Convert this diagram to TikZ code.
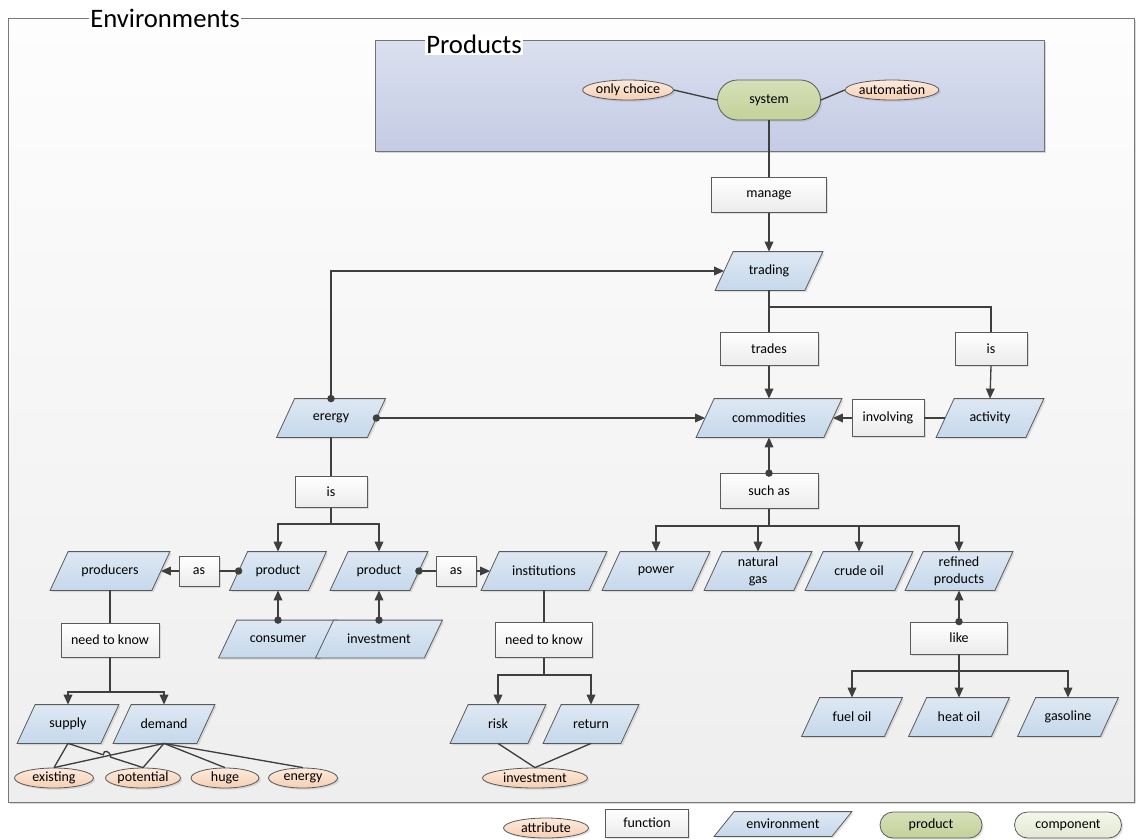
\documentclass[tikz,border=0pt]{standalone}
\usepackage{fontspec}
\setmainfont{Carlito}
\usetikzlibrary{shapes.geometric, shadows, arrows.meta, calc}

% parallelogram leaning right; anchors are those of the inner rectangle,
% so west/east sit at the middle of the slanted sides
\makeatletter
\pgfkeys{/pgf/slant offset/.initial=6.75pt}
\pgfdeclareshape{slantbox}{
  \inheritsavedanchors[from=rectangle]
  \inheritanchorborder[from=rectangle]
  \inheritanchor[from=rectangle]{center}
  \inheritanchor[from=rectangle]{north}
  \inheritanchor[from=rectangle]{south}
  \inheritanchor[from=rectangle]{east}
  \inheritanchor[from=rectangle]{west}
  \inheritanchor[from=rectangle]{north east}
  \inheritanchor[from=rectangle]{north west}
  \inheritanchor[from=rectangle]{south east}
  \inheritanchor[from=rectangle]{south west}
  \inheritanchor[from=rectangle]{mid}
  \inheritanchor[from=rectangle]{base}
  \backgroundpath{
    \pgfmathsetlength\pgf@xc{\pgfkeysvalueof{/pgf/slant offset}}
    \southwest \pgf@xa=\pgf@x \pgf@ya=\pgf@y
    \northeast \pgf@xb=\pgf@x \pgf@yb=\pgf@y
    \pgfpathmoveto{\pgfqpoint{\dimexpr\pgf@xa-\pgf@xc\relax}{\pgf@ya}}
    \pgfpathlineto{\pgfqpoint{\dimexpr\pgf@xb-\pgf@xc\relax}{\pgf@ya}}
    \pgfpathlineto{\pgfqpoint{\dimexpr\pgf@xb+\pgf@xc\relax}{\pgf@yb}}
    \pgfpathlineto{\pgfqpoint{\dimexpr\pgf@xa+\pgf@xc\relax}{\pgf@yb}}
    \pgfpathclose
  }
}
\makeatother

\definecolor{linec}{HTML}{3F3F3F}
\definecolor{bordc}{HTML}{5A5A5A}
\definecolor{envtop}{HTML}{DEE8F3}
\definecolor{envbot}{HTML}{C5D8EB}
\definecolor{attrtop}{HTML}{FDEADC}
\definecolor{attrbot}{HTML}{F5CFB3}
\definecolor{funcbot}{HTML}{EBEBEB}
\definecolor{prodtop}{HTML}{D6E0B8}
\definecolor{prodbot}{HTML}{C3D19A}
\definecolor{comptop}{HTML}{F4F7EC}
\definecolor{compbot}{HTML}{E2E8D0}
\definecolor{frametop}{HTML}{FDFDFD}
\definecolor{framebot}{HTML}{EEEEEE}
\definecolor{pboxtop}{HTML}{DBE0EF}
\definecolor{pboxbot}{HTML}{C4CBE4}

\tikzset{
  base/.style={draw=bordc, line width=0.6pt, align=center, inner sep=1pt,
    font=\fontsize{10.5}{12.75}\selectfont,
    drop shadow={shadow xshift=1.3pt, shadow yshift=-1.3pt, opacity=0.22}},
  env/.style={base, shape=slantbox, top color=envtop, bottom color=envbot, minimum height=28.5pt},
  func/.style={base, rectangle, top color=white, bottom color=funcbot},
  attr/.style={base, ellipse, inner sep=0pt, top color=attrtop, bottom color=attrbot, minimum height=15pt},
  prod/.style={base, rectangle, top color=prodtop, bottom color=prodbot},
  comp/.style={base, rectangle, top color=comptop, bottom color=compbot},
  ln/.style={draw=linec, line width=1pt},
  arr/.style={ln, -{Triangle[length=7.5pt, width=6.5pt]}},
  jdot/.style={fill=linec},
  frametitle/.style={fill=white, inner sep=1pt, font=\fontsize{20}{22}\selectfont}
}

\begin{document}
\begin{tikzpicture}[x=0.75pt, y=-0.75pt]
\useasboundingbox (0,0) rectangle (1138,839);

% outer frame and product area
\draw[draw=gray!95!black, line width=0.7pt, top color=frametop, bottom color=framebot,
  drop shadow={shadow xshift=1.8pt, shadow yshift=-1.8pt, opacity=0.3}] (8,18) rectangle (1134,802);
\node[frametitle] (envtitle) at (165,18) {Environments};
\draw[draw=gray!90!black, line width=0.7pt, top color=pboxtop, bottom color=pboxbot,
  drop shadow={shadow xshift=1.8pt, shadow yshift=-1.8pt, opacity=0.3}] (375,40) rectangle (1044,151);
\node[frametitle] (prodtitle) at (474,44) {Products};

% product area
\node[prod, minimum width=77.25pt, minimum height=30pt, rounded corners=15pt] (system) at (769,100) {system};
\node[attr, minimum width=67.5pt] (onlychoice) at (628,90) {only choice};
\node[attr, minimum width=67.5pt] (automation) at (892,90) {automation};

% upper part
\node[func, minimum width=86.25pt, minimum height=26.25pt] (manage) at (769,195) {manage};
\node[env, minimum width=66.75pt] (trading) at (769,271) {trading};
\node[func, minimum width=73.5pt, minimum height=24.75pt] (trades) at (769,349) {trades};
\node[func, minimum width=54pt, minimum height=24.75pt] (isr) at (991,349) {is};
\node[env, minimum width=95.25pt] (commodities) at (769,418) {commodities};
\node[func, minimum width=54pt, minimum height=27.75pt] (involving) at (888,418) {involving};
\node[env, minimum width=66.75pt] (activity) at (990,418) {activity};
\node[env, minimum width=67.5pt] (erergy) at (331,418) {erergy};
\node[func, minimum width=73.5pt, minimum height=26.25pt] (suchas) at (769,491) {such as};
\node[func, minimum width=54pt, minimum height=23.25pt] (isl) at (331,492) {is};

% middle row
\node[env, minimum width=75.75pt] (producers) at (110,571) {producers};
\node[func, minimum width=30pt, minimum height=22.5pt] (asl) at (199,571) {as};
\node[env, minimum width=58.5pt] (prodA) at (278,571) {product};
\node[env, minimum width=59.25pt] (prodB) at (379,571) {product};
\node[func, minimum width=30pt, minimum height=22.5pt] (asr) at (456,571) {as};
\node[env, minimum width=80.25pt] (institutions) at (544,571) {institutions};
\node[env, minimum width=66.75pt] (power) at (656,571) {power};
\node[env, minimum width=66.75pt] (natgas) at (758,571) {natural\\gas};
\node[env, minimum width=66.75pt] (crude) at (859,571) {crude oil};
\node[env, minimum width=66.75pt] (refined) at (959,571) {refined\\products};

\node[env, minimum width=75pt, minimum height=27.75pt] (consumer) at (278,639) {consumer};
\node[env, minimum width=81pt, minimum height=27.75pt] (investenv) at (379,639) {investment};
\node[func, minimum width=73.5pt, minimum height=25.5pt] (ntkl) at (110,640) {need to know};
\node[func, minimum width=72.75pt, minimum height=26.25pt] (ntkr) at (544,640) {need to know};
\node[func, minimum width=72.75pt, minimum height=24pt] (like) at (959,638) {like};

% lower row
\node[env, minimum width=62.25pt] (supply) at (68,724) {supply};
\node[env, minimum width=62.25pt] (demand) at (164,724) {demand};
\node[env, minimum width=57.75pt] (risk) at (498,724) {risk};
\node[env, minimum width=57.75pt] (return) at (591,724) {return};
\node[env, minimum width=61.5pt] (fueloil) at (852,717) {fuel oil};
\node[env, minimum width=61.5pt] (heatoil) at (959,717) {heat oil};
\node[env, minimum width=61.5pt] (gasoline) at (1068,717) {gasoline};

\node[attr, minimum width=59.25pt] (existing) at (54,778) {existing};
\node[attr, minimum width=56.25pt] (potential) at (143,778) {potential};
\node[attr, minimum width=51pt] (huge) at (225,778) {huge};
\node[attr, minimum width=51.75pt] (energy) at (303,778) {energy};
\node[attr, minimum width=78.75pt] (investattr) at (535,778) {investment};

% legend
\node[attr, minimum width=63.75pt] (lgattr) at (546,828) {attribute};
\node[func, minimum width=62.25pt, minimum height=21pt] (lgfunc) at (647,823) {function};
\node[env, slant offset=7.5pt, minimum width=87.75pt, minimum height=18pt] (lgenv) at (783,824) {environment};
\node[prod, minimum width=76.5pt, minimum height=19.5pt, rounded corners=9.75pt] (lgprod) at (931,825) {product};
\node[comp, minimum width=80.25pt, minimum height=19.5pt, rounded corners=9.75pt] (lgcomp) at (1068,825) {component};

% branch points
\coordinate (tbr) at (769,307);
\coordinate (sbr) at (769,526);
\coordinate (ebr) at (331,524);
\coordinate (nbr) at (110,692);
\coordinate (rbr) at (544,675);
\coordinate (lbr) at (959,671);

% connectors
\draw[ln] (onlychoice.east) -- (system.west);
\draw[ln] (system.east) -- (automation.west);
\draw[ln] (system.south) -- (manage.north);
\draw[arr] (manage.south) -- (trading.north);
\draw[arr] (erergy.north) |- (trading.west);
\draw[arr] (erergy.east) -- (commodities.west);
\draw[ln] (trading.south) -- (trades.north);
\draw[ln] (tbr) -| (isr.north);
\draw[arr] (trades.south) -- (commodities.north);
\draw[arr] (isr.south) -- (activity.north);
\draw[ln] (activity.west) -- (involving.east);
\draw[arr] (involving.west) -- (commodities.east);
\draw[arr] (suchas.north) -- (commodities.south);
\draw[ln] (suchas.south) -- (sbr);
\draw[arr] (sbr) -| (power.north);
\draw[arr] (sbr) -| (natgas.north);
\draw[arr] (sbr) -| (crude.north);
\draw[arr] (sbr) -| (refined.north);

\draw[ln] (erergy.south) -- (isl.north);
\draw[ln] (isl.south) -- (ebr);
\draw[arr] (ebr) -| (prodA.north);
\draw[arr] (ebr) -| (prodB.north);
\draw[ln] (prodA.west) -- (asl.east);
\draw[arr] (asl.west) -- (producers.east);
\draw[ln] (prodB.east) -- (asr.west);
\draw[arr] (asr.east) -- (institutions.west);
\draw[arr] (consumer.north) -- (prodA.south);
\draw[arr] (investenv.north) -- (prodB.south);

\draw[ln] (producers.south) -- (ntkl.north);
\draw[ln] (ntkl.south) -- (nbr);
\draw[arr] (nbr) -| (supply.north);
\draw[arr] (nbr) -| (demand.north);
\draw[ln] (institutions.south) -- (ntkr.north);
\draw[ln] (ntkr.south) -- (rbr);
\draw[arr] (rbr) -| (risk.north);
\draw[arr] (rbr) -| (return.north);
\draw[arr] (like.north) -- (refined.south);
\draw[ln] (like.south) -- (lbr);
\draw[arr] (lbr) -| (fueloil.north);
\draw[arr] (lbr) -| (heatoil.north);
\draw[arr] (lbr) -| (gasoline.north);

% attribute links
\draw[ln] (supply.south) -- (existing.north);
\draw[ln] (demand.south) -- (existing.north);
\coordinate (hopa) at ($(supply.south)!0.47!(potential.north)$);
\coordinate (hopb) at ($(supply.south)!0.57!(potential.north)$);
\draw[ln] (supply.south) -- (hopa) .. controls ($(hopa)+(0,-6)$) and ($(hopb)+(0,-6)$) .. (hopb) -- (potential.north);
\draw[ln] (demand.south) -- (potential.north);
\draw[ln] (demand.south) -- (huge.north);
\draw[ln] (demand.south) -- (energy.north);
\draw[ln] (risk.south) -- (investattr.north);
\draw[ln] (return.south) -- (investattr.north);

% joint dots
\foreach \p in {erergy.north, erergy.east, suchas.north, prodA.west, prodB.east,
                consumer.north, investenv.north, like.north}
  \fill[jdot] (\p) circle (2.8pt);
\end{tikzpicture}
\end{document}
